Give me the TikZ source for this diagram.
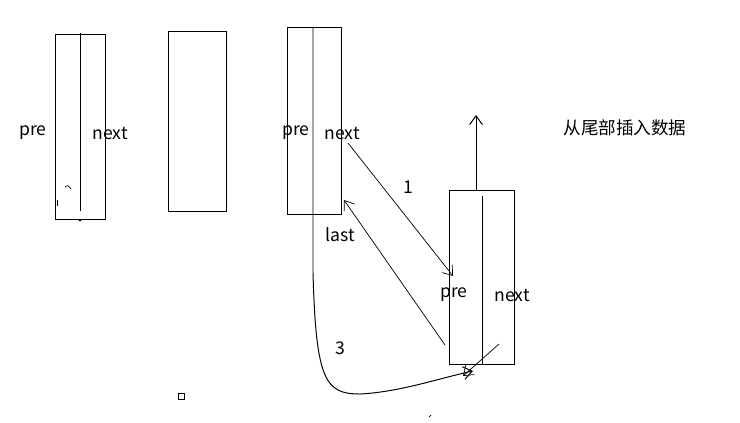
\documentclass[tikz,border=0pt]{standalone}
\usepackage{fontspec}
\setmainfont{Noto Sans CJK SC}
\usetikzlibrary{arrows.meta}

\begin{document}
\begin{tikzpicture}[x=0.025cm,y=-0.025cm,>={Straight Barb[length=2.2mm,width=3.2mm]}]

% Styles
\tikzset{
  cell/.style={
    draw=black,
    line width=0.7pt,
    inner sep=0pt
  },
  divider/.style={
    line width=0.7pt
  },
  link/.style={
    ->,
    line width=0.5pt
  },
  lbl/.style={
    font=\fontsize{12.5}{14}\selectfont,
    inner sep=0pt
  }
}

\useasboundingbox (0,0) rectangle (740,422);

% Coordinates first
\coordinate (d1top) at (80,33);
\coordinate (d1bot) at (80,211);
\coordinate (d3top) at (313,28);
\coordinate (d3bend) at (313,273);
\coordinate (d4top) at (482,196);
\coordinate (d4bot) at (482,364);
\coordinate (uptop) at (476,115);
\coordinate (upbot) at (476,191);
\coordinate (nextout) at (348,143);
\coordinate (prein) at (453,276);
\coordinate (lastin) at (344,200);
\coordinate (lastout) at (445,345);
\coordinate (tailin) at (473,371);
\coordinate (nnext) at (499,344);
\coordinate (nnextend) at (463,376);

% Boxes
\node[cell,minimum width=1.25cm,minimum height=4.6cm] (box1) at (80,127) {};
\node[cell,minimum width=1.45cm,minimum height=4.475cm] (box2) at (197,121.5) {};
\node[cell,minimum width=1.35cm,minimum height=4.65cm] (box3) at (314,121) {};
\node[cell,minimum width=1.625cm,minimum height=4.325cm] (box4) at (481.5,277.5) {};

% Dividers
\draw[divider] (d1top) -- (d1bot);
\draw[line width=0.5pt] (78,219) -- (80,221) -- (82,219);
\draw[divider] (d4top) -- (d4bot);
\draw[divider,->] (upbot) -- (uptop);

% Links
\draw[link] (nextout) -- (prein);
\draw[link] (lastout) -- (lastin);
\draw[divider,->] (d3top) -- (d3bend)
  .. controls (316,380) and (325,394) .. (360,394)
  .. controls (400,392) and (440,378) .. (tailin);
\draw[link] (nnext) -- (nnextend);

% Stray marks
\draw[line width=0.5pt] (65,187) .. controls (68,185) .. (71,189);
\draw[line width=0.5pt] (57,200) -- (57,206);
\node[draw,line width=0.5pt,minimum size=0.15cm,inner sep=0pt] (dot) at (181,396) {};
\draw[line width=0.5pt] (429,417) -- (431,415);

% Labels
\node[lbl] (pre1) at (33,133) {pre};
\node[lbl] (next1) at (110,133) {next};
\node[lbl] (pre3) at (296,133) {pre};
\node[lbl] (next3) at (342,133) {next};
\node[lbl] (last) at (340,235) {last};
\node[lbl] (pre4) at (454,295) {pre};
\node[lbl] (next4) at (512,295) {next};
\node[lbl] (one) at (408,187) {1};
\node[lbl] (three) at (340,348) {3};
\node[lbl] (title) at (625,128) {从尾部插入数据};

\end{tikzpicture}
\end{document}
